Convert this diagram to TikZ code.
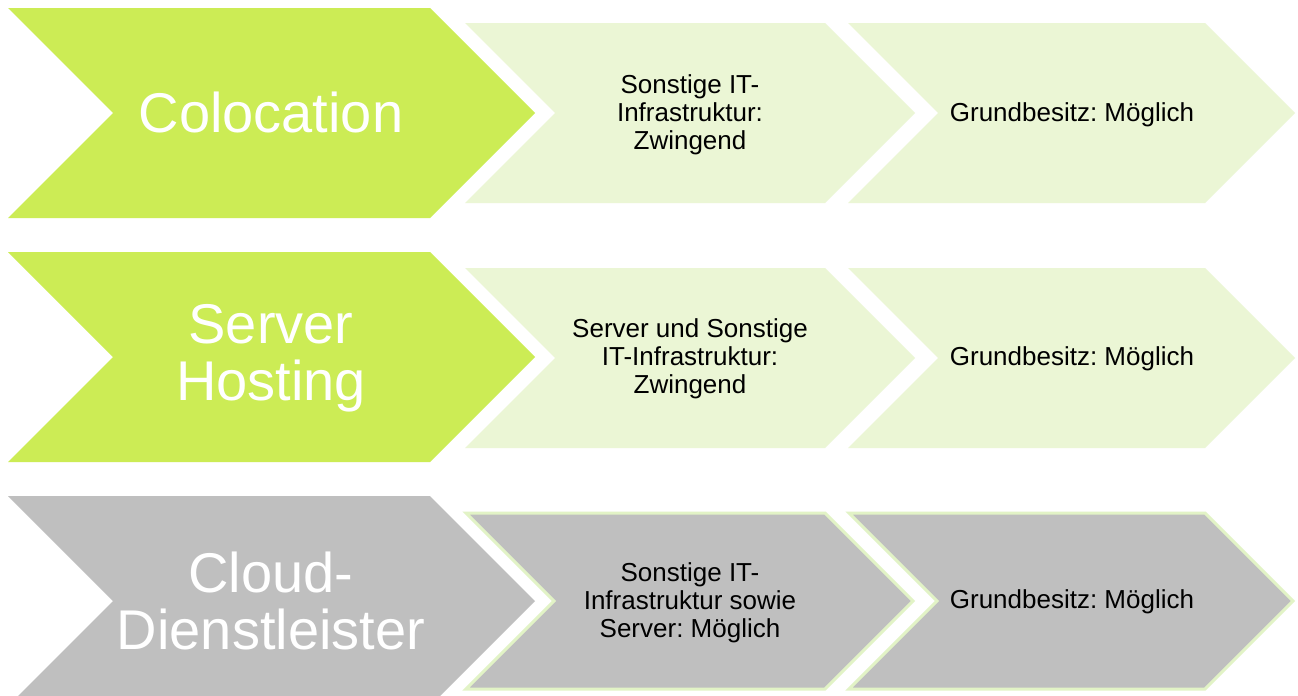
\documentclass[tikz,border=0pt]{standalone}
\usepackage{fontspec}
\setmainfont{Liberation Sans}
\frenchspacing
\definecolor{lime}{RGB}{204,236,85}
\definecolor{palelime}{RGB}{235,246,213}
\definecolor{greybox}{RGB}{191,191,191}
\definecolor{rimgreen}{RGB}{226,243,198}

% chevron outline: #1 left x, #2 centre y, #3 straight body length, #4 half height
\newcommand{\chevpath}[4]{({#1},{#2-#4}) -- ({#1+#3},{#2-#4}) -- ({#1+#3+#4},{#2})
  -- ({#1+#3},{#2+#4}) -- ({#1},{#2+#4}) -- ({#1+#4},{#2}) -- cycle}

\tikzset{
  headtext/.style={text=white, align=center, font=\fontsize{28}{28.5}\selectfont, inner sep=0pt},
  celltext/.style={text=black, align=center, font=\fontsize{13}{14}\selectfont, inner sep=0pt},
  headgreen/.style={fill=lime, draw=none},
  cellgreen/.style={fill=palelime, draw=none},
  headgrey/.style={fill=greybox, draw=none},
  cellgrey/.style={fill=greybox, draw=rimgreen, line width=1.5pt, line join=miter},
}

\begin{document}
\begin{tikzpicture}[x=0.5pt, y=-0.5pt]
\useasboundingbox (0,0) rectangle (1298,696);
\clip (0,0) rectangle (1298,696);
\fill[white] (0,0) rectangle (1298,696);

% row 1: Colocation
\path[headgreen] \chevpath{8}{113}{422}{105};
\path[cellgreen] \chevpath{465}{113}{360}{90};
\path[cellgreen] \chevpath{848}{113}{357}{90};
\node[headtext] (colo) at (271,112) {Colocation};
\node[celltext] (colo-it) at (690,115) {Sonstige IT-\\Infrastruktur:\\Zwingend};
\node[celltext] (colo-land) at (1072,115) {Grundbesitz: Möglich};

% row 2: Server Hosting
\path[headgreen] \chevpath{8}{357}{422}{105};
\path[cellgreen] \chevpath{465}{358}{360}{90};
\path[cellgreen] \chevpath{848}{358}{357}{90};
\node[headtext] (host) at (271,358) {Server\\Hosting};
\node[celltext] (host-it) at (690,359) {Server und Sonstige\\IT-Infrastruktur:\\Zwingend};
\node[celltext] (host-land) at (1072,359) {Grundbesitz: Möglich};

% row 3: Cloud-Dienstleister
\path[headgrey] \chevpath{8}{601}{422}{105};
\path[cellgrey] \chevpath{466}{601}{359}{88};
\path[cellgrey] \chevpath{849}{601}{356}{88};
\node[headtext] (cloud) at (271,601) {Cloud-\\Dienstleister};
\node[celltext] (cloud-it) at (690,603) {Sonstige IT-\\Infrastruktur sowie\\Server: Möglich};
\node[celltext] (cloud-land) at (1072,602) {Grundbesitz: Möglich};
\end{tikzpicture}
\end{document}
